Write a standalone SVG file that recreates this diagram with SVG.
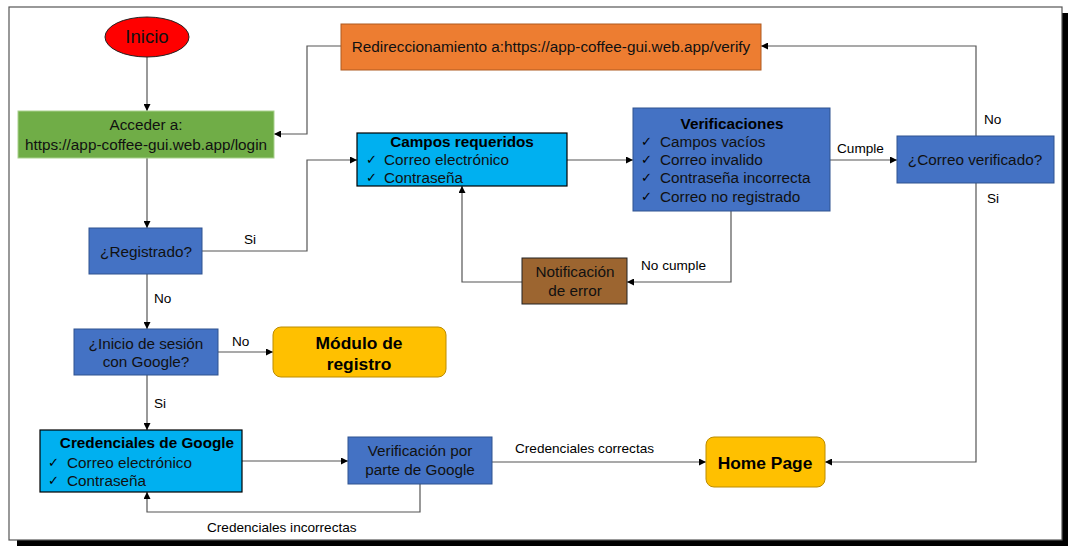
<svg xmlns="http://www.w3.org/2000/svg" width="1068" height="546" viewBox="0 0 1068 546">
<defs>
<marker id="ah" viewBox="0 0 10 10" refX="10" refY="5" markerWidth="7" markerHeight="7" orient="auto" markerUnits="userSpaceOnUse">
<path d="M0,0 L10,5 L0,10 z" fill="#000"/>
</marker>
<style>
.t{font-family:"Liberation Sans",Arial,sans-serif;font-size:15.3px;fill:#111;}
.b{font-family:"Liberation Sans",Arial,sans-serif;font-size:15.3px;font-weight:bold;fill:#000;}
.bl{font-family:"Liberation Sans",Arial,sans-serif;font-size:17.4px;font-weight:bold;fill:#000;}
.lb{font-family:"Liberation Sans",Arial,sans-serif;font-size:13.6px;fill:#000;}
.ck{font-family:"DejaVu Sans",sans-serif;font-size:13px;fill:#000;}
.c{fill:none;stroke:#555;stroke-width:1.2;}
.blue{fill:#4472C4;stroke:#2F528F;stroke-width:1;}
.cyan{fill:#00B0F0;stroke:#000;stroke-width:1.2;}
.gold{fill:#FFC000;stroke:#BC8C00;stroke-width:1;}
</style>
</defs>
<rect x="0" y="0" width="1068" height="546" fill="#fff"/>
<rect x="1062" y="13" width="6" height="533" fill="#000"/>
<rect x="17" y="540" width="1051" height="6" fill="#000"/>
<rect x="9" y="7" width="1053" height="533" fill="#fff" stroke="#555" stroke-width="1.2"/>

<g id="connectors">
<path class="c" d="M147,57 V111" marker-end="url(#ah)"/>
<path class="c" d="M341,46 H307 V134 H274" marker-end="url(#ah)"/>
<path class="c" d="M147,158 V228" marker-end="url(#ah)"/>
<path class="c" d="M202,251 H307 V160 H357" marker-end="url(#ah)"/>
<path class="c" d="M147,274 V329" marker-end="url(#ah)"/>
<path class="c" d="M218,352 H273" marker-end="url(#ah)"/>
<path class="c" d="M147,375 V430" marker-end="url(#ah)"/>
<path class="c" d="M242,461 H348" marker-end="url(#ah)"/>
<path class="c" d="M420,484 V512 H147 V492" marker-end="url(#ah)"/>
<path class="c" d="M492,462 H706" marker-end="url(#ah)"/>
<path class="c" d="M567,160 H633" marker-end="url(#ah)"/>
<path class="c" d="M830,160 H897" marker-end="url(#ah)"/>
<path class="c" d="M731,211 V282 H627" marker-end="url(#ah)"/>
<path class="c" d="M522,282 H462 V186" marker-end="url(#ah)"/>
<path class="c" d="M976,136 V46 H761" marker-end="url(#ah)"/>
<path class="c" d="M976,183 V462 H825" marker-end="url(#ah)"/>
<text class="lb" x="244" y="244">Si</text>
<text class="lb" x="154" y="303">No</text>
<text class="lb" x="232" y="346">No</text>
<text class="lb" x="154" y="408">Si</text>
<text class="lb" x="207" y="532">Credenciales incorrectas</text>
<text class="lb" x="515" y="453">Credenciales correctas</text>
<text class="lb" x="837" y="153">Cumple</text>
<text class="lb" x="641" y="270">No cumple</text>
<text class="lb" x="984" y="124">No</text>
<text class="lb" x="987" y="203">Si</text>
</g>

<g id="inicio">
<ellipse cx="147" cy="37" rx="42" ry="20" fill="#FF0000" stroke="#222" stroke-width="1"/>
<text x="147" y="43" text-anchor="middle" style="font-family:'Liberation Sans',Arial,sans-serif;font-size:18.6px;fill:#111">Inicio</text>
</g>

<g id="acceder">
<rect x="18" y="111" width="256" height="47" fill="#70AD47" stroke="#A9D18E" stroke-width="1"/>
<text class="t" x="146" y="130" text-anchor="middle">Acceder a:</text>
<text class="t" x="146" y="150" text-anchor="middle">https://app-coffee-gui.web.app/login</text>
</g>

<g id="redirect">
<rect x="341" y="24" width="420" height="46" fill="#ED7D31" stroke="#AE5A21" stroke-width="1"/>
<text class="t" x="551" y="52" text-anchor="middle">Redireccionamiento a:https://app-coffee-gui.web.app/verify</text>
</g>

<g id="campos">
<rect class="cyan" x="357" y="133" width="210" height="53"/>
<text class="b" x="462" y="147" text-anchor="middle">Campos requeridos</text>
<text class="ck" x="366" y="164">✓</text>
<text class="t" x="384" y="165">Correo electrónico</text>
<text class="ck" x="366" y="182">✓</text>
<text class="t" x="384" y="183">Contraseña</text>
</g>

<g id="verificaciones">
<rect class="blue" x="633" y="108" width="197" height="103"/>
<text class="b" x="732" y="129" text-anchor="middle">Verificaciones</text>
<text class="ck" x="641" y="146">✓</text>
<text class="t" x="660" y="147">Campos vacíos</text>
<text class="ck" x="641" y="164">✓</text>
<text class="t" x="660" y="165">Correo invalido</text>
<text class="ck" x="641" y="182">✓</text>
<text class="t" x="660" y="183">Contraseña incorrecta</text>
<text class="ck" x="641" y="201">✓</text>
<text class="t" x="660" y="202">Correo no registrado</text>
</g>

<g id="correoVerificado">
<rect class="blue" x="897" y="136" width="157" height="47"/>
<text class="t" x="975" y="165" text-anchor="middle">¿Correo verificado?</text>
</g>

<g id="registrado">
<rect class="blue" x="89" y="228" width="113" height="46"/>
<text class="t" x="146" y="257" text-anchor="middle">¿Registrado?</text>
</g>

<g id="notificacion">
<rect x="522" y="258" width="105" height="46" fill="#9C6530" stroke="#222" stroke-width="1"/>
<text class="t" x="575" y="277" text-anchor="middle">Notificación</text>
<text class="t" x="575" y="296" text-anchor="middle">de error</text>
</g>

<g id="inicioGoogle">
<rect class="blue" x="74" y="329" width="144" height="46"/>
<text class="t" x="146" y="349" text-anchor="middle">¿Inicio de sesión</text>
<text class="t" x="146" y="367" text-anchor="middle">con Google?</text>
</g>

<g id="moduloRegistro">
<rect class="gold" x="273" y="327" width="173" height="50" rx="8"/>
<text class="bl" x="359" y="349" text-anchor="middle">Módulo de</text>
<text class="bl" x="359" y="370" text-anchor="middle">registro</text>
</g>

<g id="credencialesGoogle">
<rect class="cyan" x="40" y="430" width="202" height="62"/>
<text class="b" x="147" y="448" text-anchor="middle">Credenciales de Google</text>
<text class="ck" x="48" y="467">✓</text>
<text class="t" x="67" y="468">Correo electrónico</text>
<text class="ck" x="48" y="485">✓</text>
<text class="t" x="67" y="486">Contraseña</text>
</g>

<g id="verificacionGoogle">
<rect class="blue" x="348" y="437" width="144" height="47"/>
<text class="t" x="420" y="456" text-anchor="middle">Verificación por</text>
<text class="t" x="420" y="475" text-anchor="middle">parte de Google</text>
</g>

<g id="homePage">
<rect class="gold" x="706" y="437" width="119" height="50" rx="8"/>
<text class="bl" x="765" y="469" text-anchor="middle">Home Page</text>
</g>
</svg>
